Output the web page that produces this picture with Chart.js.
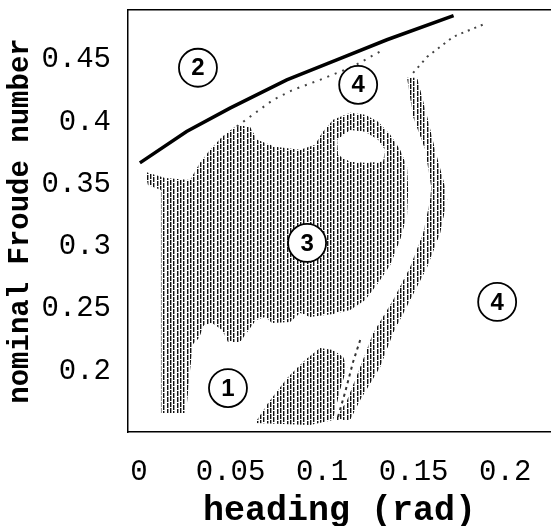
<!DOCTYPE html>
<html lang="en">
<head>
  <meta charset="UTF-8">
  <title>Heading vs nominal Froude number</title>
  <script src="https://cdn.jsdelivr.net/npm/chart.js"></script>
  <style>
    body { margin: 0; background: #fff; }
    #wrap { width: 551px; height: 526px; }
  </style>
</head>
<body>
  <div id="wrap"><canvas id="chart" width="551" height="526"></canvas></div>
  <script>
    // axis ticks
    const xTicks = [0, 0.05, 0.1, 0.15, 0.2];
    const yTicks = [0.2, 0.25, 0.3, 0.35, 0.4, 0.45];

    // thick boundary curve (region 2 above it)
    const curveX = [0.0005, 0.026, 0.0497, 0.0807, 0.108, 0.1354, 0.1718];
    const curveY = [0.3672, 0.3924, 0.4112, 0.4339, 0.450, 0.4661, 0.4854];

    // sparse dotted fringe just under the curve
    const fringeX = [0.0534, 0.0732, 0.0842, 0.0989, 0.1169, 0.1333];
    const fringeY = [0.3964, 0.4178, 0.4259, 0.4339, 0.4446, 0.4580];

    // dotted tail at the top of the right band
    const tailX = [0.1497, 0.1574, 0.1716, 0.1902];
    const tailY = [0.4395, 0.4524, 0.4685, 0.4797];

    // region 3 outline
    const reg3X = [0.0033, 0.0142, 0.0279, 0.0333, 0.0388, 0.0454, 0.0536, 0.0607, 0.0645, 0.0743,
                   0.0880, 0.0962, 0.1000, 0.1060, 0.1153, 0.1235, 0.1306, 0.1372, 0.1426, 0.1464,
                   0.1470, 0.1464, 0.1426, 0.1372, 0.1306, 0.1235, 0.1153, 0.1060, 0.0934, 0.0880,
                   0.0825, 0.0727, 0.0689, 0.0639, 0.0607, 0.0552, 0.0486, 0.0454, 0.0399, 0.0355,
                   0.0328, 0.0295, 0.0279, 0.0257, 0.0120, 0.0120, 0.0049];
    const reg3Y = [0.3600, 0.3551, 0.3535, 0.3672, 0.3777, 0.3881, 0.3977, 0.3961, 0.3857, 0.3801,
                   0.3777, 0.3817, 0.3913, 0.4018, 0.4074, 0.4058, 0.4002, 0.3897, 0.3777, 0.3640,
                   0.3455, 0.3254, 0.3053, 0.2852, 0.2707, 0.2571, 0.2490, 0.2458, 0.2434, 0.2466,
                   0.2394, 0.2386, 0.2434, 0.2410, 0.2346, 0.2233, 0.2233, 0.2330, 0.2386, 0.2370,
                   0.2265, 0.2217, 0.2008, 0.1662, 0.1662, 0.3455, 0.3495];

    // empty pocket under the arch
    const holeX = [0.1082, 0.1153, 0.1235, 0.1306, 0.1344, 0.1333, 0.1235, 0.1153, 0.1087];
    const holeY = [0.3857, 0.3937, 0.3921, 0.3857, 0.3777, 0.3680, 0.3672, 0.3680, 0.3736];

    // region 1 blob
    const reg1X = [0.0634, 0.0705, 0.0814, 0.0907, 0.0989, 0.1060, 0.1115, 0.1137, 0.1098, 0.1060, 0.0934];
    const reg1Y = [0.1582, 0.1743, 0.1952, 0.2088, 0.2185, 0.2169, 0.2113, 0.2032, 0.1847, 0.1606, 0.1566];

    // sparse line right of region 1
    const thinX = [0.1208, 0.1169, 0.1126, 0.1082];
    const thinY = [0.2249, 0.2072, 0.1831, 0.1606];

    // curved band between region 3 and region 4
    const bandX = [0.1464, 0.1497, 0.1563, 0.1596, 0.1590, 0.1552, 0.1481, 0.1388, 0.1279, 0.1208, 0.1137, 0.1071,
                   0.1153, 0.1208, 0.1317, 0.1388, 0.1481, 0.1574, 0.1645, 0.1683, 0.1672, 0.1617, 0.1574, 0.1519];
    const bandY = [0.4355, 0.4042, 0.3777, 0.3479, 0.3375, 0.3109, 0.2836, 0.2571, 0.2305, 0.2032, 0.1767, 0.1606,
                   0.1606, 0.1767, 0.2032, 0.2305, 0.2571, 0.2836, 0.3109, 0.3375, 0.3479, 0.3777, 0.4042, 0.4355];

    // circled region numbers
    const labelText = ['1', '2', '3', '4', '4'];
    const labelX = [0.0486, 0.0322, 0.0918, 0.1197, 0.1956];
    const labelY = [0.1863, 0.4436, 0.3029, 0.4299, 0.2555];

    const toPts = (xs, ys) => xs.map((x, i) => ({ x: x, y: ys[i] }));

    // vertical dash texture like the original plot
    function makeHatch() {
      const c = document.createElement('canvas');
      c.width = 10; c.height = 12;
      const g = c.getContext('2d');
      const cols = [
        [0, [0, 1, 2, 3, 4, 6, 7, 8, 9, 10]],
        [3, [0, 1, 3, 4, 5, 6, 7, 9, 10, 11]],
        [7, [1, 2, 3, 4, 5, 7, 8, 9, 10, 11]]
      ];
      cols.forEach(([x, rows]) => rows.forEach(r => {
        g.fillStyle = '#111';
        g.fillRect(x, r, 1, 1);
        g.fillStyle = '#9a9a9a';
        g.fillRect(x + 1, r, 1, 1);
      }));
      return g.createPattern(c, 'repeat');
    }
    const hatch = makeHatch();

    const fillSet = (pts, color, order) => ({
      data: pts, showLine: true, fill: 'shape', backgroundColor: color,
      borderWidth: 0, borderColor: 'rgba(0,0,0,0)', pointRadius: 0, order: order
    });

    // circles with the region numbers, placed at the label dataset's points
    const labelPlugin = {
      id: 'circleText',
      afterDatasetsDraw(chart) {
        const meta = chart.getDatasetMeta(0);
        const ctx = chart.ctx;
        ctx.save();
        ctx.font = 'bold 24px "Liberation Sans", Arial, sans-serif';
        ctx.textAlign = 'center';
        ctx.textBaseline = 'middle';
        meta.data.forEach((pt, i) => {
          ctx.beginPath();
          ctx.arc(pt.x, pt.y, 19, 0, Math.PI * 2);
          ctx.fillStyle = '#fff';
          ctx.fill();
          ctx.lineWidth = 1.8;
          ctx.strokeStyle = '#000';
          ctx.stroke();
          ctx.fillStyle = '#000';
          ctx.fillText(labelText[i], pt.x, pt.y + 1);
        });
        ctx.restore();
      }
    };

    const monoTick = { family: '"Liberation Mono", "Courier New", monospace', size: 29 };

    new Chart(document.getElementById('chart'), {
      type: 'scatter',
      data: {
        datasets: [
          { data: toPts(labelX, labelY), pointRadius: 0, pointHoverRadius: 0, order: 0 },
          {
            data: toPts(curveX, curveY), showLine: true, borderColor: '#000', borderWidth: 3.5,
            pointRadius: 0, fill: false, order: 1
          },
          {
            data: toPts(fringeX, fringeY), showLine: true, borderColor: '#444', borderWidth: 2,
            borderDash: [2, 6], pointRadius: 0, fill: false, order: 2
          },
          {
            data: toPts(tailX, tailY), showLine: true, borderColor: '#444', borderWidth: 2,
            borderDash: [2, 5], pointRadius: 0, fill: false, order: 2
          },
          {
            data: toPts(thinX, thinY), showLine: true, borderColor: '#333', borderWidth: 2,
            borderDash: [3, 4], pointRadius: 0, fill: false, order: 2
          },
          fillSet(toPts(holeX, holeY), '#fff', 3),
          fillSet(toPts(reg3X, reg3Y), hatch, 4),
          fillSet(toPts(reg1X, reg1Y), hatch, 4),
          fillSet(toPts(bandX, bandY), hatch, 4)
        ]
      },
      options: {
        responsive: false,
        animation: false,
        devicePixelRatio: 1,
        layout: { padding: 0 },
        plugins: { legend: { display: false }, tooltip: { enabled: false } },
        scales: {
          x: {
            type: 'linear', position: 'bottom', min: -0.006, max: 0.225,
            afterBuildTicks: s => { s.ticks = xTicks.map(v => ({ value: v })); },
            afterFit: s => { s.height = 94; s.paddingLeft = 0; s.paddingRight = 0; },
            grid: { display: false },
            border: { color: '#000', width: 1.5 },
            ticks: { color: '#000', font: monoTick, padding: 15, maxRotation: 0,
                     callback: v => String(v) },
            title: { display: true, text: 'heading (rad)', color: '#000',
                     font: { family: '"Liberation Mono", "Courier New", monospace', size: 35, weight: 'bold', lineHeight: 0.7 },
                     padding: { top: 0, bottom: 3 } }
          },
          xTop: {
            type: 'linear', position: 'top', min: -0.006, max: 0.225,
            afterFit: s => { s.height = 10; s.paddingLeft = 0; s.paddingRight = 0; },
            grid: { display: false },
            border: { color: '#000', width: 1.5 },
            ticks: { display: false }
          },
          y: {
            type: 'linear', position: 'left', min: 0.151, max: 0.490,
            afterBuildTicks: s => { s.ticks = yTicks.map(v => ({ value: v })); },
            afterFit: s => { s.width = 128; s.paddingTop = 0; s.paddingBottom = 0; },
            grid: { display: false },
            border: { color: '#000', width: 1.5 },
            ticks: { color: '#000', font: monoTick, padding: 9, callback: v => String(v) },
            title: { display: true, text: 'nominal Froude number', color: '#000',
                     font: { family: '"Liberation Mono", "Courier New", monospace', size: 29, weight: 'bold', lineHeight: 1.2 },
                     padding: { top: 3, bottom: 0 } }
          }
        }
      },
      plugins: [labelPlugin]
    });
  </script>
</body>
</html>
